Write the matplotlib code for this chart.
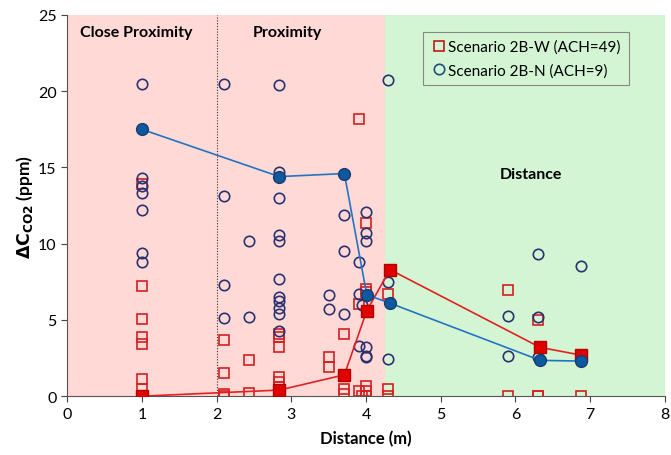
import matplotlib.pyplot as plt
from matplotlib.lines import Line2D

plt.rcParams['font.family'] = ['Lato', 'DejaVu Sans']

# individual measurements, scenario 2B-N (ACH=9)
n_x = ([1.0] * 7 + [2.1] * 4 + [2.43] * 2 + [2.83] * 11 + [3.5] * 2 + [3.7] * 3
       + [3.9] * 3 + [3.95] + [4.0] * 6 + [4.3] * 3 + [5.9] * 2 + [6.3] * 3 + [6.87])
n_y = [20.5, 14.3, 13.8, 13.3, 12.2, 9.4, 8.8,
       20.5, 13.1, 7.3, 5.1,
       10.15, 5.2,
       20.4, 14.7, 13.0, 10.6, 10.2, 7.7, 6.5, 6.25, 5.8, 5.4, 4.25,
       6.65, 5.7,
       11.9, 9.55, 5.4,
       8.8, 6.7, 3.3,
       5.95,
       12.05, 10.7, 10.15, 3.2, 2.65, 2.55,
       20.75, 7.5, 2.45,
       5.25, 2.65,
       9.3, 5.2, 2.55,
       8.55]

# individual measurements, scenario 2B-W (ACH=49)
w_x = ([1.0] * 8 + [2.1] * 4 + [2.43] * 2 + [2.83] * 8 + [3.5] * 2 + [3.7] * 3
       + [3.9] * 3 + [3.95] + [4.0] * 6 + [4.3] * 3 + [5.9] * 2 + [6.3] * 3 + [6.87])
w_y = [13.9, 7.2, 5.05, 3.85, 3.4, 1.15, 0.45, 0.0,
       3.7, 1.55, 0.15, 0.0,
       2.35, 0.2,
       4.1, 3.85, 3.25, 1.25, 0.9, 0.6, 0.3, 0.0,
       2.55, 1.9,
       4.05, 0.45, 0.15,
       18.2, 6.05, 0.35,
       0.0,
       11.35, 7.0, 6.8, 0.7, 0.35, 0.0,
       6.7, 0.45, 0.0,
       6.95, 0.0,
       5.0, 0.0, 0.0,
       0.0]

# averages at each location
mean_x = [1.0, 2.84, 3.71, 4.01, 4.32, 6.33, 6.87]
n_mean = [17.5, 14.4, 14.6, 6.65, 6.1, 2.35, 2.3]
w_mean = [0.0, 0.4, 1.4, 5.6, 8.3, 3.2, 2.7]

fig = plt.figure(figsize=(6.71, 4.56), dpi=100)
ax = fig.add_axes([0.1, 0.129, 0.891, 0.836])

# zones
ax.axvspan(0, 4.25, color='#ffd9d6', zorder=0, lw=0)
ax.axvspan(4.25, 8, color='#d3f5d3', zorder=0, lw=0)
ax.axvline(2, color='#333333', ls=(0, (1, 1.5)), lw=0.8, zorder=1)

ax.plot(w_x, w_y, 's', ms=7.5, mfc='none', mec='#d42020', mew=1.2, zorder=2)
ax.plot(n_x, n_y, 'o', ms=7.5, mfc='none', mec='#2b3272', mew=1.2, zorder=3)

ax.plot(mean_x, w_mean, '-s', color='#e32020', lw=1.2, ms=8,
        mfc='#e00000', mec='#b00000', zorder=4)
ax.plot(mean_x, n_mean, '-o', color='#2273c3', lw=1.2, ms=8.5,
        mfc='#0b5aa0', mec='#1c3a6e', zorder=5)

ax.text(0.17, 23.9, 'Close Proximity', fontsize=11.5, fontweight='bold', va='center')
ax.text(2.95, 23.9, 'Proximity', fontsize=11.5, fontweight='bold', ha='center', va='center')
ax.text(6.2, 14.55, 'Distance', fontsize=11.5, fontweight='bold', ha='center', va='center')

ax.set_xlim(0, 8)
ax.set_ylim(0, 25)
ax.set_xticks(range(0, 9))
ax.set_yticks(range(0, 26, 5))
ax.tick_params(labelsize=11.5, direction='out', length=4, color='#444444')
for side in ['top', 'right']:
    ax.spines[side].set_visible(False)
for side in ['left', 'bottom']:
    ax.spines[side].set_color('#555555')

ax.set_xlabel('Distance (m)', fontsize=12, fontweight='bold', labelpad=7)
ax.set_ylabel(r'$\mathbf{\Delta C_{CO2}}$ (ppm)', fontsize=12.5, fontweight='bold', labelpad=2)

handles = [Line2D([], [], ls='none', marker='s', ms=7.5, mfc='none', mec='#c01818', mew=1.2),
           Line2D([], [], ls='none', marker='o', ms=7.5, mfc='none', mec='#1f4f7a', mew=1.2)]
leg = ax.legend(handles, ['Scenario 2B-W (ACH=49)', 'Scenario 2B-N (ACH=9)'],
                loc='upper right', bbox_to_anchor=(0.952, 0.975), fontsize=11,
                fancybox=False, framealpha=1, facecolor='#d3f5d3', edgecolor='#888888',
                handletextpad=0.1, handlelength=1.1, borderpad=0.5, labelspacing=0.6)
leg.get_frame().set_linewidth(0.8)

fig.savefig('out.png', dpi=100)
